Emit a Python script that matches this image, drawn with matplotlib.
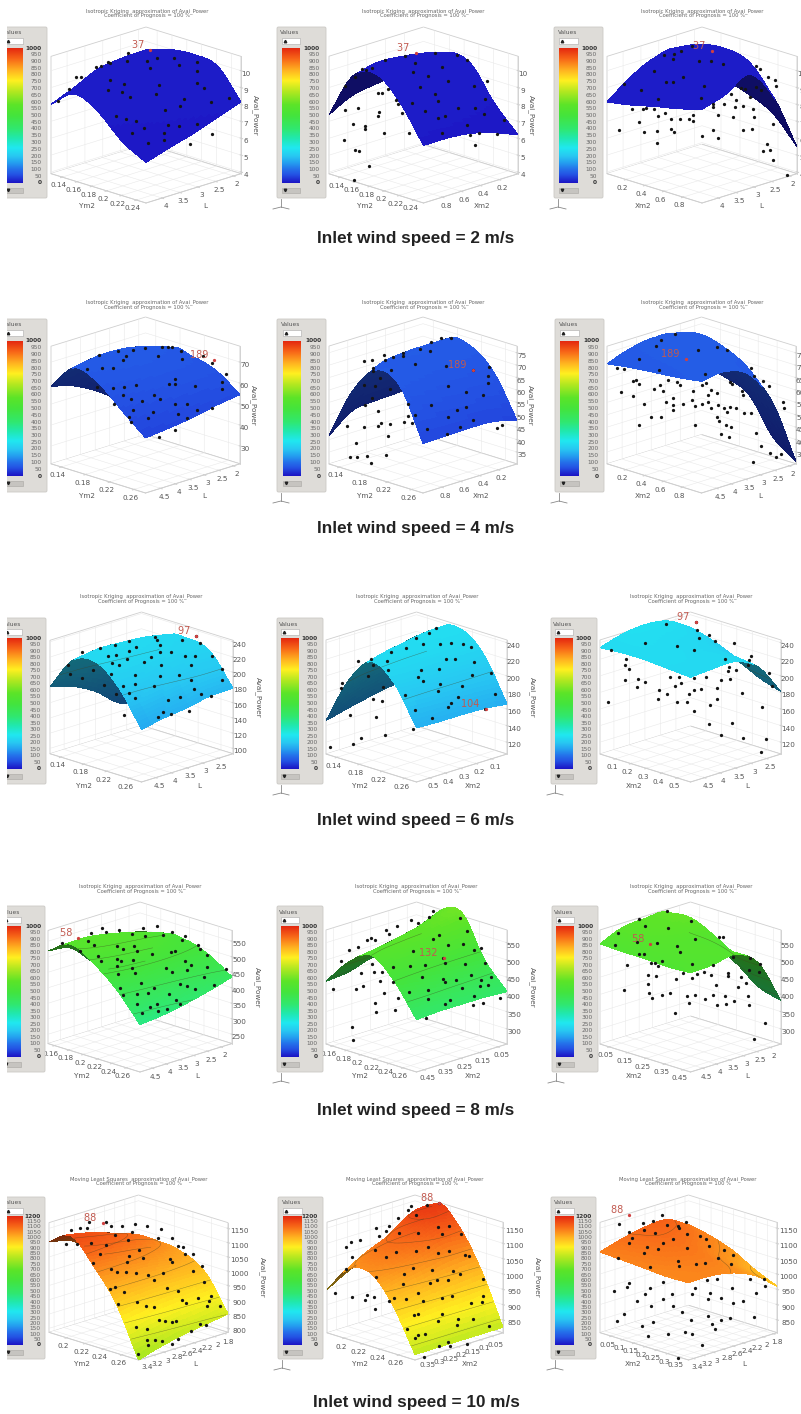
import numpy as np
import matplotlib
matplotlib.use("Agg")
import matplotlib.pyplot as plt
from matplotlib.colors import LinearSegmentedColormap
from matplotlib.patches import FancyBboxPatch, Rectangle

plt.rcParams['grid.color'] = '#e9e9e9'
plt.rcParams['grid.linewidth'] = 0.4

# surface read at 5 x 5 places, rows go along the front-left axis, columns along the front-right axis
r1c1_z = [[8.0, 8.6, 9.25, 9.45, 9.5], [9.05, 9.45, 9.8, 9.95, 9.95], [8.4, 9.05, 9.55, 9.95, 10.1], [7.1, 7.95, 8.6, 9.3, 9.85], [6.3, 6.75, 7.15, 7.65, 8.15]]
r1c2_z = [[7.4, 8.1, 8.35, 8.5, 8.6], [10.1, 10.45, 10.35, 10.15, 9.8], [10.65, 10.55, 10.45, 10.15, 9.55], [9.4, 9.05, 8.75, 8.35, 7.65], [7.3, 7.3, 7.15, 6.75, 6.2]]
r1c3_z = [[8.15, 9.2, 9.9, 10.0, 8.1], [8.4, 9.45, 10.3, 10.65, 8.1], [8.75, 9.75, 10.5, 10.85, 7.7], [9.05, 10.0, 10.65, 10.5, 7.0], [9.45, 9.9, 10.65, 8.9, 5.5]]
r2c1_z = [[58.5, 55.1, 49, 41.1, 35.5], [70.8, 73, 72.5, 69.4, 65.2], [67.1, 70.2, 70.8, 69.1, 65.7], [57.3, 60.7, 63, 63.5, 62.4], [47.8, 49, 50.6, 52.9, 54.5]]
r2c2_z = [[41.6, 48.7, 49.9, 50.4, 51.6], [62.5, 69.2, 70.8, 71.3, 71.5], [73.9, 73.9, 73.9, 73, 72], [70.6, 68.2, 66.3, 65.4, 64.4], [50.2, 50.4, 50.6, 50.2, 47.8]]
r2c3_z = [[70.6, 73.9, 75.3, 73.4, 58.7], [72, 74.9, 76.3, 76.3, 56.3], [73, 75.3, 76.3, 73.9, 52.3], [73.9, 75.8, 75.3, 68.2, 38.3], [75.3, 76.3, 72.2, 58.2, 31.2]]
r3c1_z = [[181, 172, 156, 132, 123], [225, 229, 227, 223, 215], [232, 232, 230, 227, 226], [208, 209, 214, 218, 218], [162, 168, 172, 178, 179]]
r3c2_z = [[146, 153, 159, 164, 168], [203, 216, 223, 229, 231], [234, 236, 238, 239, 239], [217, 216, 216, 216, 216], [171, 170, 170, 169, 166]]
r3c3_z = [[234, 242, 245, 241, 225], [236, 239, 236, 232, 217], [236, 236, 232, 225, 205], [234, 234, 232, 223, 190], [232, 234, 234, 219, 181]]
r4c1_z = [[519, 505, 435, 384, 366], [563, 567, 552, 530, 501], [523, 538, 538, 523, 508], [461, 472, 479, 483, 483], [373, 381, 395, 413, 435]]
r4c2_z = [[438, 445, 465, 471, 474], [514, 517, 534, 552, 580], [554, 567, 577, 587, 597], [501, 494, 488, 484, 481], [408, 412, 412, 412, 408]]
r4c3_z = [[547, 574, 580, 577, 494], [544, 564, 577, 582, 481], [544, 557, 557, 551, 451], [541, 554, 554, 517, 402], [544, 547, 557, 511, 382]]
r5c1_z = [[1103, 1082, 1024, 978, 959], [1147, 1132, 1109, 1078, 1024], [1066, 1062, 1055, 1039, 1016], [959, 966, 970, 970, 970], [786, 809, 826, 838, 851]]
r5c2_z = [[949, 989, 1017, 1032, 1043], [1039, 1079, 1111, 1162, 1165], [1046, 1068, 1090, 1118, 1111], [963, 970, 978, 985, 992], [826, 826, 826, 826, 826]]
r5c3_z = [[1072, 1093, 1108, 1111, 1072], [1068, 1086, 1097, 1086, 1057], [1064, 1079, 1082, 1061, 1032], [1059, 1068, 1068, 1032, 992], [1061, 1061, 1048, 1017, 960]]

# sample points: depth can't be read from one view, so s is the place along the left-right diagonal of the floor
r1c1_s = [.035, .094, .133, .156, .239, .265, .301, .313, .407, .402, .504, .558, .646, .77, .31, .384, .372, .301, .522, .673, .77, .77, .805, .841, .938, .566, .554, .699, .681, .602, .416, .342, .395, .448, .487, .425, .616, .673, .77, .593, .593, .513, .731, .846]
r1c1_p = [8.2, 8.92, 9.6, 9.64, 10.22, 10.26, 10.5, 10.48, 11.02, 10.56, 10.6, 10.76, 10.76, 10.52, 9.46, 9.2, 8.76, 8.86, 10.16, 10.36, 10.0, 9.26, 9.0, 8.12, 8.4, 9.16, 8.6, 8.32, 7.92, 7.7, 8.46, 7.32, 7.12, 7.02, 6.6, 6.3, 6.76, 6.72, 6.86, 6.32, 5.9, 5.72, 5.64, 6.22]
r1c2_s = [.083, .136, .175, .198, .225, .296, .402, .455, .561, .676, .729, .596, .526, .446, .481, .632, .765, .835, .827, .561, .579, .437, .508, .575, .614, .685, .77, .818, .924, .729, .747, .795, .888, .77, .596, .083, .154, .127, .189, .189, .08, .136, .159, .212, .133, .26, .264, .281, .31, .257, .354, .366, .384, .423, .292]
r1c2_p = [9.08, 9.61, 10.07, 10.03, 10.17, 10.6, 10.86, 10.46, 11.05, 10.95, 10.6, 10.2, 9.67, 9.93, 9.02, 9.38, 9.08, 9.38, 8.33, 8.59, 8.2, 8.1, 7.6, 7.21, 7.31, 7.76, 7.8, 7.41, 7.05, 6.78, 6.19, 6.29, 6.23, 5.58, 6.32, 7.68, 7.8, 6.86, 6.72, 6.52, 5.87, 5.28, 5.24, 4.39, 3.51, 7.31, 7.57, 8.69, 8.89, 8.65, 8.26, 8.0, 7.51, 6.32, 6.32]
r1c3_s = [.091, .302, .351, .389, .447, .346, .249, .179, .267, .311, .346, .402, .486, .547, .609, .512, .495, .132, .188, .205, .249, .267, .307, .167, .196, .261, .261, .061, .337, .386, .43, .451, .454, .337, .351, .556, .556, .618, .653, .679, .705, .728, .753, .675, .718, .767, .586, .661, .772, .556, .718, .763, .5, .586, .875, .842, .858, .819, .875, .946, .784, .805, .846, .884, .889, .784, .811]
r1c3_p = [9.22, 10.95, 10.99, 11.19, 11.49, 10.7, 10.01, 8.83, 8.33, 9.32, 9.32, 9.65, 10.6, 10.6, 10.4, 9.12, 8.37, 7.74, 7.72, 7.78, 7.74, 7.29, 7.49, 6.94, 6.34, 6.42, 5.73, 6.46, 7.15, 7.13, 7.15, 7.35, 6.99, 6.52, 6.34, 8.04, 7.84, 8.04, 8.63, 8.24, 8.98, 8.93, 8.47, 7.84, 7.88, 7.72, 7.39, 7.25, 7.25, 6.5, 6.46, 6.54, 6.11, 6.01, 6.82, 5.64, 5.28, 5.22, 4.73, 3.8, 10.26, 10.11, 9.65, 9.42, 9.12, 9.06, 8.87]
r2c1_s = [.254, .356, .436, .397, .383, .268, .326, .189, .497, .586, .617, .638, .688, .564, .691, .806, .854, .924, .326, .386, .448, .656, .626, .656, .762, .903, .903, .245, .383, .423, .483, .545, .577, .656, .721, .771, .854, .333, .432, .413, .515, .541, .67, .721, .422, .57, .656]
r2c1_p = [73.2, 75.2, 75.6, 72.7, 70.8, 67.1, 67.4, 66.6, 76.8, 77.1, 77.3, 77.1, 75.2, 72.7, 71.5, 73.1, 69.8, 64.2, 57.7, 58.2, 59, 61.8, 59.8, 59.5, 58.7, 60.6, 57.1, 58.2, 54.2, 52.6, 51.5, 54.5, 52.6, 50.2, 50.2, 47.3, 48.2, 50.2, 47.4, 44, 43.4, 46.1, 45.3, 43.4, 41.6, 34.5, 37.7]
r2c2_s = [.186, .227, .292, .297, .338, .395, .391, .232, .232, .329, .271, .186, .244, .327, .227, .191, .536, .483, .545, .598, .651, .457, .625, .766, .851, .846, .846, .731, .634, .819, .542, .681, .731, .421, .258, .421, .46, .634, .766, .699, .92, .896, .522, .628, .097, .186, .262, .276, .327, .398, .444, .315, .142, .112, .15, .204, .303, .221]
r2c2_p = [71.8, 72.2, 74, 72, 73.2, 75, 73.6, 68.8, 67.5, 67.9, 65, 62, 61.6, 60.4, 56.6, 53.8, 75.6, 76.6, 79.5, 81.1, 81.1, 70.5, 69.5, 68.1, 69.2, 65.7, 62.7, 59.3, 61.6, 57.9, 53.8, 52, 53.1, 54.5, 51.5, 49.7, 50, 49, 48, 45.2, 45.9, 44.5, 44.3, 42.2, 45.4, 45.2, 45.6, 46.6, 46.3, 47, 46.7, 41.4, 38.8, 33.1, 33.1, 33.4, 34, 30.6]
r2c3_s = [.359, .288, .258, .17, .274, .483, .581, .637, .519, .055, .09, .135, .152, .17, .076, .138, .248, .28, .297, .324, .368, .386, .31, .35, .35, .35, .404, .451, .457, .465, .195, .232, .288, .17, .465, .501, .536, .549, .589, .533, .581, .549, .501, .522, .651, .66, .713, .722, .763, .779, .828, .858, .619, .651, .681, .726, .761, .634, .581, .593, .628, .655, .602, .648, .788, .816, .86, .922, .896, .77, .931, .935]
r2c3_p = [82.7, 80.4, 77.7, 72.5, 68.1, 76.3, 77.4, 76.3, 66.5, 68.8, 68.6, 63.8, 64.1, 62.4, 59.3, 57.6, 60.5, 62, 59.7, 64.1, 63.2, 62, 55.2, 56.6, 53.8, 52, 54.2, 55.9, 59.7, 53.4, 54.2, 49.3, 49, 45.9, 45.9, 54.5, 55.2, 52.9, 53.8, 57.9, 58.6, 60.2, 62, 62.7, 63.4, 62.3, 59.7, 57.9, 68.8, 65.7, 63.8, 61.6, 52.7, 53.1, 52.7, 50.8, 50.8, 51.1, 49, 47.4, 45.9, 45, 42.2, 40.9, 42.5, 37.5, 34.7, 34, 33.1, 30.9, 55.2, 52.7]
r3c1_s = [.1, .173, .274, .356, .429, .429, .471, .575, .584, .721, .799, .818, .599, .602, .662, .735, .79, .885, .94, .94, .316, .359, .338, .378, .423, .515, .553, .604, .77, .109, .173, .234, .332, .467, .602, .703, .77, .296, .401, .462, .566, .786, .825, .881, .361, .432, .465, .644, .708, .617, .661, .757, .588, .407]
r3c1_p = [209.7, 227, 231.4, 236.3, 241.6, 227.4, 233.6, 246, 243, 242.5, 247.4, 238.5, 235.9, 226.1, 226.1, 221.7, 220.8, 220.8, 204.8, 189.7, 220.8, 222.5, 211.9, 209.7, 217.2, 213.7, 220.3, 209.2, 209.7, 197.2, 192.8, 202.6, 197.2, 196.8, 195, 195.9, 189.2, 183, 182.6, 184.8, 182.6, 177.7, 171.9, 169.3, 171.5, 172.8, 166.2, 163.9, 167.9, 148.4, 145.3, 149.3, 141.3, 144.4]
r3c2_s = [.176, .248, .357, .441, .496, .568, .607, .537, .631, .689, .757, .801, .338, .09, .081, .233, .261, .344, .313, .261, .311, .524, .506, .537, .623, .662, .711, .818, .914, .809, .632, .619, .75, .436, .73, .689, .675, .932, .494, .583, .881, .132, .278, .325, .195, .149, .022, .482]
r3c2_p = [217.9, 220.8, 228.9, 234.2, 246.1, 252.2, 257.5, 238.3, 238.3, 240, 238.3, 235.1, 217.9, 191.4, 184.9, 199.6, 212.6, 206.5, 186.1, 172.6, 169.8, 206.5, 199.2, 194.3, 208.5, 220.8, 220, 216.3, 204, 201.6, 190.6, 182, 188.1, 176.7, 173.9, 166.9, 162, 178.3, 158.4, 149, 160, 153, 150.6, 128.2, 124.5, 117.6, 114.7, 136.3]
r3c3_s = [.059, .249, .363, .428, .517, .53, .535, .548, .603, .637, .738, .692, .836, .821, .815, .142, .138, .159, .137, .21, .251, .203, .327, .046, .319, .369, .387, .434, .446, .415, .428, .483, .489, .52, .559, .52, .585, .646, .668, .71, .751, .707, .72, .784, .646, .609, .52, .893, .932, .95, .6, .729, .668, .79, .919, .887]
r3c3_p = [231, 239.1, 262, 236.3, 231, 264.8, 255.5, 246.1, 249.3, 242.4, 239.1, 220, 223.6, 219.6, 212.6, 220.8, 212.6, 207.7, 195.1, 196.3, 193, 186.9, 182.4, 168.6, 171.8, 177.9, 199.2, 198.3, 191, 188.1, 169, 169, 177.9, 182.8, 184.1, 197.5, 199.2, 184.9, 195.5, 210.6, 207.3, 205.3, 196.3, 178.8, 172.6, 164.5, 157.1, 162.8, 203.2, 188.1, 142, 143.3, 128.2, 124.5, 123.3, 108.6]
r4c1_s = [.078, .173, .218, .231, .249, .296, .315, .387, .458, .518, .527, .591, .627, .673, .727, .742, .813, .827, .864, .967, .273, .287, .373, .409, .467, .485, .564, .667, .691, .376, .395, .464, .458, .473, .373, .382, .642, .673, .745, .776, .758, .864, .849, .9, .504, .576, .718, .758, .8, .391, .405, .482, .545, .655, .696, .718, .485, .555, .595, .645, .513, .6]
r4c1_p = [544.6, 518.8, 551, 577.9, 537, 592.9, 580, 587.6, 572.5, 594, 566, 599.4, 569.3, 580, 553.2, 566, 539.2, 524.1, 504.8, 459.6, 501.6, 485.4, 534.9, 526.3, 533.8, 517.7, 510.2, 515.5, 518.8, 494, 485.4, 488.7, 465, 448.9, 470.4, 445.7, 465, 451, 485.4, 472.5, 458.6, 467.2, 434.9, 408, 415.6, 399.4, 413.4, 405.9, 395.1, 399.4, 377.9, 381.2, 384.4, 381.2, 361.8, 348.9, 346.8, 338.2, 348.9, 332.8, 318.8, 324.2]
r4c2_s = [.127, .178, .081, .224, .246, .272, .331, .349, .39, .467, .509, .592, .57, .739, .781, .592, .623, .675, .757, .816, .858, .877, .482, .371, .463, .546, .647, .656, .767, .531, .647, .656, .717, .803, .858, .914, .895, .849, .371, .46, .564, .564, .754, .816, .868, .963, .66, .684, .813, .555, .191, .267, .307, .252, .301, .206, .04, .165, .322, .399, .27, .276, .381, .145, .151]
r4c2_p = [529, 538, 498, 557, 565, 559, 587, 575, 598, 615, 608, 643, 625, 622, 585, 560, 572, 542, 545, 530, 535, 490, 527, 480, 483, 485, 505, 490, 487, 450, 445, 435, 442, 455, 442, 450, 428, 425, 435, 406, 413, 388, 419, 394, 376, 391, 373, 383, 369, 331, 463, 465, 465, 487, 440, 425, 416, 416, 405, 391, 376, 348, 354, 305, 268]
r4c3_s = [.101, .218, .249, .369, .375, .502, .526, .083, .207, .314, .428, .443, .655, .677, .216, .245, .148, .282, .304, .323, .341, .507, .264, .308, .264, .133, .273, .29, .341, .387, .419, .456, .507, .535, .577, .613, .627, .705, .705, .779, .64, .478, .489, .526, .581, .625, .646, .688, .696, .738, .764, .808, .817, .823, .417, .736, .83, .886, .821, .881, .911, .852]
r4c3_p = [578, 620, 598, 643, 593, 612, 560, 543, 552, 550, 540, 523, 567, 567, 518, 518, 484, 492, 490, 483, 498, 488, 455, 454, 430, 414, 404, 391, 399, 404, 445, 462, 447, 458, 465, 455, 485, 462, 453, 450, 427, 394, 376, 399, 386, 399, 368, 394, 371, 381, 421, 432, 395, 368, 345, 510, 505, 487, 470, 465, 317, 270]
r5c1_s = [.097, .125, .172, .213, .157, .224, .318, .346, .406, .48, .465, .546, .624, .611, .686, .72, .746, .761, .804, .237, .318, .368, .443, .284, .503, .447, .527, .677, .686, .854, .247, .346, .381, .434, .43, .486, .555, .636, .587, .802, .867, .34, .368, .419, .658, .72, .387, .493, .542, .589, .742, .766, .832, .907, .895, .882, .957, .617, .649, .686, .708, .486, .546, .546, .593, .63, .555, .686, .72, .794, .841, .877, .499]
r5c1_p = [1095, 1143, 1150, 1150, 1097, 1173, 1172, 1160, 1158, 1166, 1136, 1158, 1147, 1118, 1115, 1089, 1085, 1062, 1060, 1100, 1092, 1127, 1108, 1062, 1074, 1052, 1048, 1043, 1031, 1017, 1028, 1008, 996, 1031, 996, 993, 987, 993, 970, 1000, 962, 939, 944, 927, 942, 931, 884, 892, 877, 875, 900, 889, 906, 913, 895, 877, 877, 829, 827, 823, 827, 806, 797, 760, 760, 754, 740, 746, 763, 791, 815, 812, 711]
r5c2_s = [.044, .144, .23, .215, .266, .272, .106, .139, .186, .144, .106, .278, .297, .338, .354, .405, .462, .477, .567, .637, .506, .411, .519, .633, .696, .652, .762, .272, .39, .338, .504, .572, .633, .696, .785, .808, .278, .49, .595, .439, .43, .586, .627, .69, .717, .757, .884, .352, .382, .449, .519, .546, .652, .711, .884, .817, .878, .494, .519, .652, .631, .743, .74, .827, .452, .5, .515, .557, .918, .637, .686, .7, .797, .551]
r5c2_p = [937, 925, 930, 915, 924, 887, 1089, 1103, 1111, 1056, 1015, 1149, 1123, 1139, 1158, 1182, 1208, 1221, 1226, 1233, 1191, 1134, 1134, 1153, 1155, 1131, 1131, 1078, 1073, 1054, 1076, 1089, 1070, 1076, 1061, 1059, 990, 1018, 1014, 999, 966, 971, 979, 980, 1011, 999, 985, 913, 922, 919, 939, 911, 922, 929, 929, 905, 909, 867, 869, 870, 847, 853, 835, 854, 820, 792, 802, 803, 831, 765, 779, 765, 771, 728]
r5c3_s = [.108, .164, .242, .298, .349, .377, .443, .487, .249, .183, .308, .415, .449, .494, .566, .598, .164, .268, .251, .326, .358, .494, .613, .698, .751, .666, .438, .449, .543, .591, .74, .104, .283, .166, .151, .081, .283, .355, .253, .208, .289, .358, .409, .413, .538, .519, .604, .66, .745, .623, .609, .683, .751, .808, .845, .925, .883, .934, .094, .138, .238, .302, .274, .383, .479, .519, .575, .466, .515, .609, .632, .685, .651, .736, .872, .443]
r5c3_p = [1164, 1136, 1167, 1172, 1193, 1161, 1158, 1169, 1145, 1117, 1133, 1116, 1150, 1131, 1125, 1114, 1100, 1087, 1070, 1081, 1103, 1084, 1092, 1078, 1061, 1051, 1043, 1026, 1032, 1036, 1032, 1051, 1024, 971, 956, 945, 953, 973, 934, 913, 894, 919, 936, 894, 955, 936, 979, 985, 955, 937, 919, 922, 905, 911, 984, 985, 937, 960, 847, 870, 829, 842, 797, 804, 810, 803, 766, 875, 850, 864, 837, 849, 819, 857, 860, 725]

# best design point of each panel: label, s, power
best_label = [['37', '37', '37'], ['189', '189', '189'], ['97', '104', '97'], ['58', '132', '58'], ['88', '88', '88']]
best_s = [[.522, .46, .553], [.864, .766, .416], [.799, .882, .528], [.164, .653, .277], [.299, .637, .164]]
best_p = [[11.22, 11.01, 11.19], [71.1, 68.1, 72.5], [247.4, 159.6, 264.8], [561.8, 505, 545], [1170, 1233, 1194]]

# axes
ym2_lims = [(.125, .253), (.123, .279), (.121, .281), (.151, .279), (.181, .278)]
ym2_ticks = [[.14, .16, .18, .2, .22, .24], [.14, .18, .22, .26], [.14, .18, .22, .26], [.16, .18, .2, .22, .24, .26], [.2, .22, .24, .26]]
xm2_lims = [(1.0, 0.0), (1.0, 0.0), (.586, 0.0), (.49, 0.0), (.392, 0.0)]
xm2_ticks = [[.2, .4, .6, .8], [.2, .4, .6, .8], [.1, .2, .3, .4, .5], [.05, .15, .25, .35, .45], [.05, .1, .15, .2, .25, .3, .35]]
l_lims = [(4.45, 1.79), (5.02, 1.77), (4.95, 2.03), (4.95, 1.6), (3.5, 1.73)]
l_ticks = [[2, 2.5, 3, 3.5, 4], [2, 2.5, 3, 3.5, 4, 4.5], [2.5, 3, 3.5, 4, 4.5], [2, 2.5, 3, 3.5, 4, 4.5], [1.8, 2, 2.2, 2.4, 2.6, 2.8, 3, 3.2, 3.4]]
power_lims = [[(3.9, 10.85)] * 3, [(21.5, 77.6), (30.2, 77.7), (30.2, 77.7)], [(93, 242), (105.7, 243.3), (105.7, 243.3)], [(220, 585), (256, 587), (256, 587)], [(786, 1170), (808, 1169), (808, 1169)]]
power_ticks = [[[4, 5, 6, 7, 8, 9, 10]] * 3,
               [[30, 40, 50, 60, 70], [35, 40, 45, 50, 55, 60, 65, 70, 75], [35, 40, 45, 50, 55, 60, 65, 70, 75]],
               [[100, 120, 140, 160, 180, 200, 220, 240], [120, 140, 160, 180, 200, 220, 240], [120, 140, 160, 180, 200, 220, 240]],
               [[250, 300, 350, 400, 450, 500, 550], [300, 350, 400, 450, 500, 550], [300, 350, 400, 450, 500, 550]],
               [[800, 850, 900, 950, 1000, 1050, 1100, 1150], [850, 900, 950, 1000, 1050, 1100, 1150], [850, 900, 950, 1000, 1050, 1100, 1150]]]
iso_levels = [[], [], [200], [400, 450, 500], [850, 900, 950, 1000, 1050, 1100, 1150]]
color_max = [1000, 1000, 1000, 1000, 1200]
speeds = [2, 4, 6, 8, 10]
methods = ['Isotropic Kriging', 'Isotropic Kriging', 'Isotropic Kriging', 'Isotropic Kriging', 'Moving Least Squares']

surfaces = [[r1c1_z, r1c2_z, r1c3_z], [r2c1_z, r2c2_z, r2c3_z], [r3c1_z, r3c2_z, r3c3_z], [r4c1_z, r4c2_z, r4c3_z], [r5c1_z, r5c2_z, r5c3_z]]
points_s = [[r1c1_s, r1c2_s, r1c3_s], [r2c1_s, r2c2_s, r2c3_s], [r3c1_s, r3c2_s, r3c3_s], [r4c1_s, r4c2_s, r4c3_s], [r5c1_s, r5c2_s, r5c3_s]]
points_p = [[r1c1_p, r1c2_p, r1c3_p], [r2c1_p, r2c2_p, r2c3_p], [r3c1_p, r3c2_p, r3c3_p], [r4c1_p, r4c2_p, r4c3_p], [r5c1_p, r5c2_p, r5c3_p]]

# layout in pixels of the reference
FW, FH = 801, 1414
ELEV = 18
box_x = [[(51, 241), (329, 518), (607, 797)], [(51, 240), (329, 517), (607, 796)], [(50, 233), (326, 507), (600, 781)], [(48, 232), (326, 507), (600, 781)], [(49, 228), (327, 503), (600, 777)]]
box_y = [(27, 203), (317, 493), (612, 782), (902, 1072), (1195, 1360)]
title_x = [[147, 423, 702], [147, 423, 702], [141, 417, 691], [140, 416, 691], [139, 415, 688]]
title_y = [11, 302, 596, 886, 1179]
head_y = [238, 529, 820, 1111, 1402]
legend_y = [(27, 198, 48, 183), (319, 492, 341, 476), (618, 784, 638, 769), (906, 1072, 926, 1057), (1197, 1359, 1216, 1345)]
legend_x = [[(0, 47, 5, 23, 42), (277, 326, 282, 300, 320), (554, 603, 559, 578, 597)],
            [(0, 47, 5, 23, 42), (277, 326, 283, 301, 321), (555, 604, 560, 579, 599)],
            [(0, 46, 4, 22, 41), (277, 323, 281, 299, 318), (551, 597, 555, 573, 592)],
            [(0, 45, 3, 21, 41), (277, 323, 281, 299, 318), (552, 598, 556, 574, 593)],
            [(0, 45, 5, 23, 41), (278, 323, 283, 302, 318), (551, 596, 555, 574, 592)]]
# longer power numbers need more room before the axis name
ztick_pad = [-6, -6, -5, -5, -3]
zname_pad = [-15, -15, -10, -10, -6]

cmap = LinearSegmentedColormap.from_list('values', [
    (0.0, '#1c14c4'), (0.06, '#2452e4'), (0.1, '#2470ea'), (0.15, '#24a0f0'), (0.2, '#28c8f2'),
    (0.26, '#20e8f0'), (0.33, '#20e8b0'), (0.4, '#30e870'), (0.5, '#44e43c'), (0.58, '#5ce428'),
    (0.68, '#b4e820'), (0.76, '#fff020'), (0.84, '#ffb020'), (0.92, '#f86818'), (1.0, '#e42810')])


def catmull(v, n):
    # rounds the 5 read values off along the first axis
    p = np.vstack([2 * v[0] - v[1], v, 2 * v[-1] - v[-2]])
    t = np.linspace(0, len(v) - 1, n)
    i = np.minimum(t.astype(int), len(v) - 2)
    f = (t - i)[:, None]
    p0, p1, p2, p3 = p[i], p[i + 1], p[i + 2], p[i + 3]
    return 0.5 * (2 * p1 + (p2 - p0) * f + (2 * p0 - 5 * p1 + 4 * p2 - p3) * f ** 2 + (3 * p1 - p0 - 3 * p2 + p3) * f ** 3)


def fine(z, n=49):
    z = catmull(np.array(z, float), n)
    z = catmull(z.T, n).T
    return z, np.linspace(0, 1, n)


fig = plt.figure(figsize=(FW / 100, FH / 100), dpi=100)

over = fig.add_axes([0, 0, 1, 1], zorder=5)
over.patch.set_alpha(0)
over.axis('off')


def draw_surface(r, c):
    left, right = box_x[r][c]
    top, front = box_y[r]
    W = right - left
    H = (front - top) - W * np.sin(np.radians(ELEV))
    ratio = (H / np.cos(np.radians(ELEV))) / (W / np.sqrt(2))
    A = 1.8294640721620434 * 25 / 24 / np.sqrt(2 + ratio ** 2)
    ppu = W / (2 * A * np.sqrt(0.5) / 10)
    S = 0.185 * ppu
    xc = (left + right) / 2
    yc = (top + front) / 2
    ax = fig.add_axes([(xc - 0.095 * ppu) / FW, 1 - (yc + 0.095 * ppu) / FH, S / FW, S / FH],
                      projection='3d', computed_zorder=False, zorder=1)
    ax.patch.set_alpha(0)
    ax.view_init(elev=ELEV, azim=-45)
    ax.set_proj_type('ortho')
    ax.set_box_aspect((1, 1, ratio))

    if c == 2:
        xl, xt, xname = xm2_lims[r], xm2_ticks[r], 'Xm2'
        xl = (xl[1], xl[0])
    else:
        xl, xt, xname = ym2_lims[r], ym2_ticks[r], 'Ym2'
    if c == 1:
        yl, yt, yname = xm2_lims[r], xm2_ticks[r], 'Xm2'
    else:
        yl, yt, yname = l_lims[r], l_ticks[r], 'L'
    zl = power_lims[r][c]
    zt = power_ticks[r][c]

    ax.set_xlim(xl, view_margin=0)
    ax.set_ylim(yl, view_margin=0)
    ax.set_zlim(zl, view_margin=0)
    ax.set_xticks(xt, labels=[str(v) for v in xt])
    ax.set_yticks(yt, labels=[str(v) for v in yt])
    ax.set_zticks(zt, labels=[str(v) for v in zt])
    ax.tick_params(axis='both', labelsize=5.2, labelcolor='#555555', color='#d0d0d0', width=0.3, pad=-5)
    ax.tick_params(axis='z', pad=ztick_pad[r])
    ax.set_xlabel(xname, fontsize=5.2, color='#555555', labelpad=-11)
    ax.set_ylabel(yname, fontsize=5.2, color='#555555', labelpad=-11)
    ax.zaxis.set_rotate_label(False)
    ax.set_zlabel('Avai_Power', fontsize=5.2, color='#555555', labelpad=zname_pad[r], rotation=-90)
    for axis in (ax.xaxis, ax.yaxis, ax.zaxis):
        axis.set_pane_color('white')
        axis.pane.set_edgecolor('#cfcfcf')
        axis.pane.set_linewidth(0.6)
        axis.line.set_color('#cfcfcf')
        axis.line.set_linewidth(0.6)

    z, tf = fine(surfaces[r][c])
    xs = xl[0] + tf * (xl[1] - xl[0])
    ys = yl[0] + tf * (yl[1] - yl[0])
    X, Y = np.meshgrid(xs, ys, indexing='ij')
    # shade the underside where it faces the viewer
    cz = (z - zl[0]) / (zl[1] - zl[0]) * ratio
    da, db = np.gradient(cz, tf, tf)
    el = np.radians(ELEV)
    facing = -da * np.sqrt(0.5) * np.cos(el) + db * np.sqrt(0.5) * np.cos(el) + np.sin(el)
    colors = cmap(z / color_max[r])
    colors[facing < 0, :3] *= 0.5
    ax.plot_surface(X, Y, z, facecolors=colors, shade=False, rstride=1, cstride=1,
                    linewidth=0, antialiased=False, zorder=2)
    if iso_levels[r]:
        ax.contour(X, Y, z, levels=iso_levels[r], colors='#404020', linewidths=0.35, alpha=0.55, zorder=3)

    s = np.array(points_s[r][c])
    ax.scatter(xl[0] + s * (xl[1] - xl[0]), yl[0] + s * (yl[1] - yl[0]), points_p[r][c],
               c='#141414', s=5.5, linewidths=0, depthshade=False, zorder=4)
    bs = best_s[r][c]
    bx, by, bz = xl[0] + bs * (xl[1] - xl[0]), yl[0] + bs * (yl[1] - yl[0]), best_p[r][c]
    ax.scatter([bx], [by], [bz], c='#d04040', s=5.5, linewidths=0, depthshade=False, zorder=5)
    ax.text(bx, by, bz, best_label[r][c] + '  ', color='#c25a50', fontsize=7, ha='right', va='bottom', zorder=6)


def draw_legend(r, c):
    p0, p1, g0, g1, lab = legend_x[r][c]
    top, bot, gt, gb = legend_y[r]
    vmax = color_max[r]
    over.add_patch(FancyBboxPatch((p0 + 1, top + 1), p1 - p0 - 2, bot - top - 2, boxstyle='round,pad=1,rounding_size=1.5',
                                  fc='#dedcd8', ec='#cbc9c5', lw=0.6))
    over.imshow(np.linspace(1, 0, 256)[:, None], cmap=cmap, extent=[g0, g1, gb, gt], aspect='auto', vmin=0, vmax=1, zorder=3)
    for v in range(0, vmax + 1, 50):
        bold = v in (0, vmax)
        over.text(lab, gb - (gb - gt) * v / vmax, str(v), ha='right', va='center', color='#333333' if bold else '#666666',
                  fontsize=4.2, fontweight='bold' if bold else 'normal', zorder=4)
    over.text((g0 + g1) / 2 - 1, top + 6, 'Values', ha='center', va='center', fontsize=4.2, color='#555555', zorder=4)
    over.add_patch(Rectangle((g0, top + 11), g1 - g0, 5.5, fc='white', ec='#aaaaaa', lw=0.4, zorder=3))
    over.plot([g0 + 3], [top + 13.5], marker='^', ms=1.8, color='#222222', zorder=4)
    over.add_patch(Rectangle((g0, gb + 4.5), g1 - g0, 5.5, fc='#c6c4c0', ec='#a8a6a2', lw=0.4, zorder=3))
    over.plot([g0 + 3], [gb + 7], marker='v', ms=1.8, color='#222222', zorder=4)
    if c > 0:
        # little axis triad under the legend
        tx = p0 + 4
        over.plot([tx, tx], [bot + 1, bot + 9], color='#888888', lw=0.6)
        over.plot([tx - 8, tx, tx + 8], [bot + 11, bot + 9, bot + 11], color='#888888', lw=0.6)


for r in range(5):
    for c in range(3):
        draw_surface(r, c)
        draw_legend(r, c)
        over.text(title_x[r][c], title_y[r], methods[r] + '  approximation of Avai_Power', ha='center', va='center',
                  fontsize=3.8, color='#666666')
        over.text(title_x[r][c], title_y[r] + 5, 'Coefficient of Prognosis = 100 %', ha='center', va='center',
                  fontsize=3.8, color='#666666')
    over.text(416, head_y[r], f'Inlet wind speed = {speeds[r]} m/s', ha='center', va='center', fontsize=12.3,
              fontweight='bold', family='Liberation Sans', color='#222222')

# the left column is cut by the edge of the source picture
over.add_patch(Rectangle((0, 0), 7, FH, fc='white', ec='none', zorder=10))
over.set_xlim(0, FW)
over.set_ylim(FH, 0)

fig.savefig('out.png', dpi=100)
